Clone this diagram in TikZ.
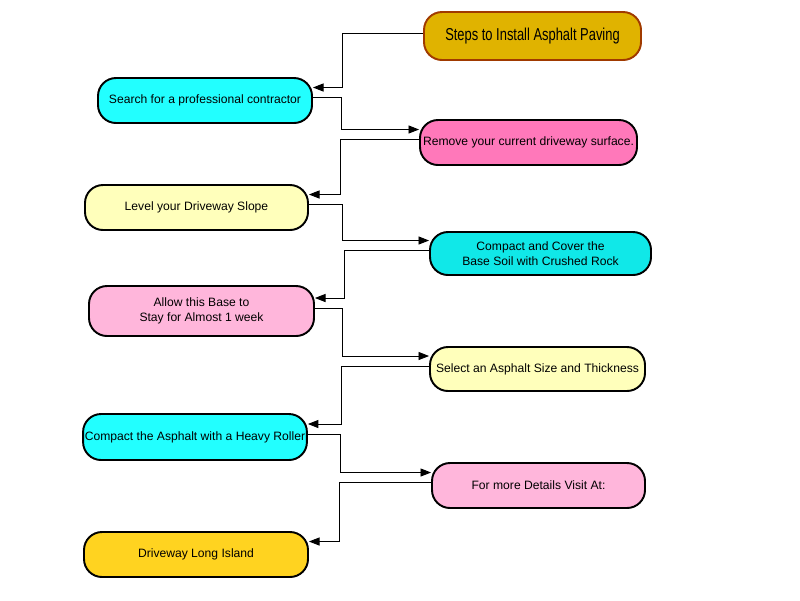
\documentclass[tikz,border=0pt]{standalone}
\usepackage{fontspec}
\setmainfont{Liberation Sans}
\newfontfamily\titlefont[FakeStretch=0.75]{Liberation Sans}
\usetikzlibrary{arrows.meta}
\usetikzlibrary{calc}
\definecolor{titlefill}{HTML}{E0B300}
\definecolor{titleline}{HTML}{A03A00}
\definecolor{cyanfill}{HTML}{22FFFF}
\definecolor{cyandark}{HTML}{10E8E8}
\definecolor{pinkfill}{HTML}{FF78BA}
\definecolor{lemonfill}{HTML}{FFFFBB}
\definecolor{rosefill}{HTML}{FFB6DB}
\definecolor{goldfill}{HTML}{FFD320}

\begin{document}
\begin{tikzpicture}[x=0.02cm,y=-0.02cm,
    stepbox/.style={rounded corners=0.36cm,line width=1.1pt,align=center,inner sep=1pt,
      font=\fontsize{6.9}{8.5}\selectfont},
    link/.style={-{Triangle[length=6pt,width=4.6pt]},line width=0.5pt}]
    \useasboundingbox (0,0) rectangle (800,600);
    \foreach \k/\x/\y/\w/\h/\c/\d/\t in {
        1/532.5/36/217/48/titlefill/titleline/{\titlefont\fontsize{9.8}{11}\selectfont Steps to Install Asphalt Paving},
        2/205/100.5/214/45/cyanfill/black/{Search for a professional contractor},
        3/528.5/142.5/217/45/pinkfill/black/{Remove your current driveway surface.},
        4/196.5/207.5/223/45/lemonfill/black/{Level your Driveway Slope},
        5/540.5/253.5/221/43/cyandark/black/{Compact and Cover the\\Base Soil with Crushed Rock},
        6/201.5/311/225/50/rosefill/black/{Allow this Base to\\Stay for Almost 1 week},
        7/537.5/369/215/44/lemonfill/black/{Select an Asphalt Size and Thickness},
        8/195/437/222/46/cyanfill/black/{Compact the Asphalt with a Heavy Roller},
        9/538.5/485.5/213/45/rosefill/black/{For more Details Visit At:},
        10/196/554.5/224/45/goldfill/black/{Driveway Long Island}} {
        \node[stepbox,fill=\c,draw=\d,minimum width=\w*0.02cm,minimum height=\h*0.02cm] (n\k) at (\x,\y) {\t};
    }
    \foreach \a/\b/\m in {1/2/342,3/4/340,5/6/344,7/8/341,9/10/339} {
        \coordinate (s) at ($(n\a.west)+(0,-3)$);
        \coordinate (e) at ($(n\b.east)+(0,-13)$);
        \coordinate (m) at (\m,0);
        \draw[link] (s) -- (s -| m) |- (e);
    }
    \foreach \a/\b/\m in {2/3/341,4/5/342,6/7/342,8/9/340} {
        \coordinate (s) at ($(n\a.east)+(0,-3)$);
        \coordinate (e) at ($(n\b.west)+(0,-13)$);
        \coordinate (m) at (\m,0);
        \draw[link] (s) -- (s -| m) |- (e);
    }
\end{tikzpicture}
\end{document}
